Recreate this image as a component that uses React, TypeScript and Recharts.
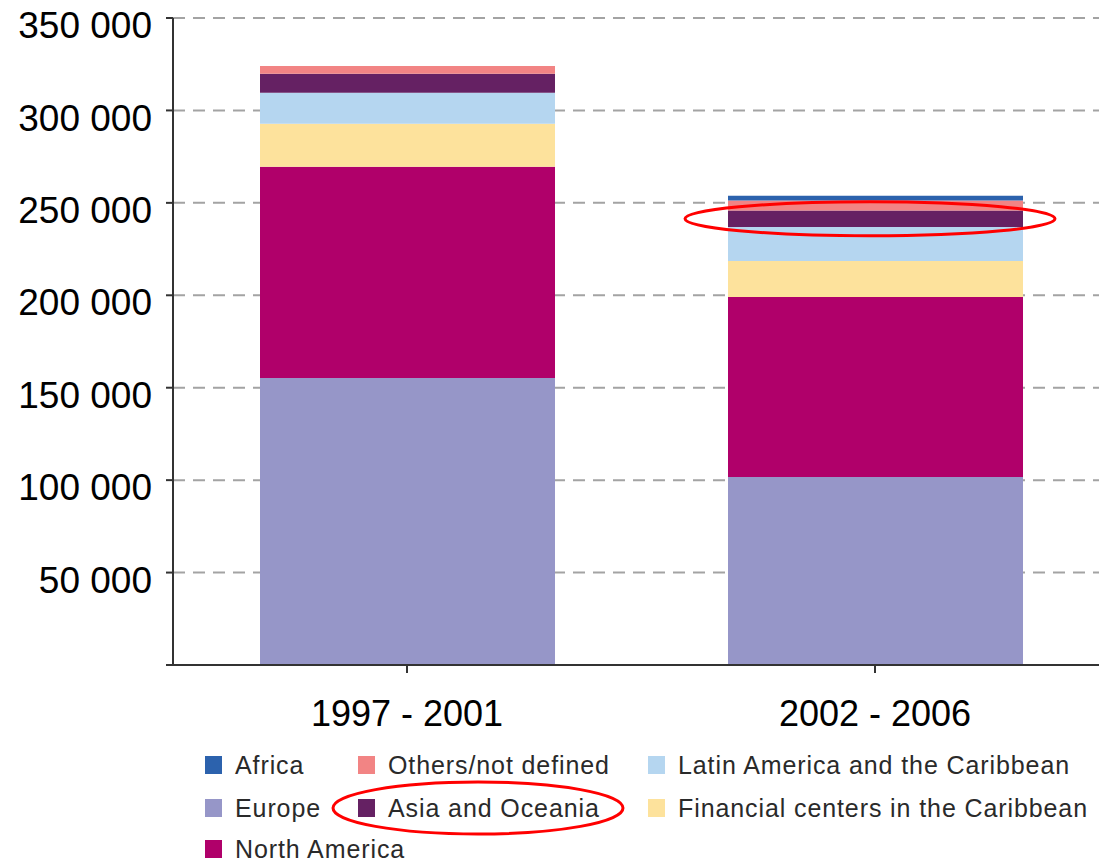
import { BarChart, Bar, XAxis, YAxis, CartesianGrid, ReferenceDot } from "recharts";

const periods = ["1997 - 2001", "2002 - 2006"];

const europe = [155300, 101700];
const northAmerica = [114200, 97400];
const financialCenters = [23300, 19500];
const latinAmerica = [16700, 18300];
const asiaOceania = [10300, 9000];
const othersNotDefined = [4300, 5400];
const africa = [0, 2500];

const yTicks = [0, 50000, 100000, 150000, 200000, 250000, 300000, 350000];

const series = [
  { key: "Europe", values: europe, color: "#9696c8" },
  { key: "North America", values: northAmerica, color: "#b0006a" },
  { key: "Financial centers in the Caribbean", values: financialCenters, color: "#fde29c" },
  { key: "Latin America and the Caribbean", values: latinAmerica, color: "#b5d6f0" },
  { key: "Asia and Oceania", values: asiaOceania, color: "#652163" },
  { key: "Others/not defined", values: othersNotDefined, color: "#f28484" },
  { key: "Africa", values: africa, color: "#2c62ad" },
];

// legend order as in the picture: column by column
const legendOrder = [
  "Africa",
  "Europe",
  "North America",
  "Others/not defined",
  "Asia and Oceania",
  "Latin America and the Caribbean",
  "Financial centers in the Caribbean",
];

const data = periods.map((p, i) => {
  const row: Record<string, string | number> = { period: p };
  series.forEach((s) => (row[s.key] = s.values[i]));
  return row;
});

const FONT = "'Liberation Sans', Arial, sans-serif";
const colX = [205, 358, 648];
const rowY = [765, 808, 849];

function fmt(v: number) {
  if (v === 0) return "";
  return String(v).replace(/\B(?=(\d{3})+(?!\d))/g, " ");
}

function YTick(props: any) {
  const { x, y, payload } = props;
  return (
    <text
      x={x}
      y={y + 7}
      dy="0.355em"
      textAnchor="end"
      fill="#000"
      fontSize={37}
      fontFamily={FONT}
    >
      {fmt(payload.value)}
    </text>
  );
}

function Legenda() {
  return (
    <>
      {legendOrder.map((name, i) => {
        const s = series.find((x) => x.key === name)!;
        const col = i < 3 ? 0 : i < 5 ? 1 : 2;
        const row = i < 3 ? i : i < 5 ? i - 3 : i - 5;
        return (
          <div
            key={name}
            style={{
              position: "absolute",
              left: colX[col],
              top: rowY[row] - 15,
              height: 30,
              display: "flex",
              alignItems: "center",
              fontFamily: FONT,
              fontSize: 25,
              letterSpacing: 0.9,
              color: "#2a2a2a",
              whiteSpace: "nowrap",
            }}
          >
            <span
              style={{
                display: "inline-block",
                width: 17,
                height: 18,
                background: s.color,
                marginRight: 13,
              }}
            />
            {name}
          </div>
        );
      })}
    </>
  );
}

export default function App() {
  return (
    <div
      style={{
        position: "absolute",
        left: 0,
        top: 0,
        width: 1099,
        height: 861,
        overflow: "hidden",
        background: "#fff",
      }}
    >
      <BarChart
        width={1115}
        height={735}
        data={data}
        margin={{ top: 18, right: 6, left: 0, bottom: 0 }}
      >
        <CartesianGrid
          horizontal
          vertical={false}
          stroke="#a3a3a3"
          strokeWidth={2}
          strokeDasharray="12 8"
        />
        <XAxis
          dataKey="period"
          height={70}
          tickSize={8}
          tickMargin={27}
          axisLine={{ stroke: "#333", strokeWidth: 2 }}
          tickLine={{ stroke: "#333", strokeWidth: 2 }}
          tick={{ fill: "#000", fontSize: 36, fontFamily: FONT }}
        />
        <YAxis
          width={173}
          domain={[0, 350000]}
          ticks={yTicks}
          interval={0}
          tickSize={7}
          tickMargin={14}
          axisLine={{ stroke: "#333", strokeWidth: 2 }}
          tickLine={{ stroke: "#333", strokeWidth: 2 }}
          tick={<YTick />}
        />
        {series.map((s) => (
          <Bar
            key={s.key}
            dataKey={s.key}
            stackId="a"
            fill={s.color}
            barSize={295}
            isAnimationActive={false}
          />
        ))}
        <ReferenceDot
          x={periods[1]}
          y={241400}
          r={10}
          ifOverflow="visible"
          shape={(p: any) => (
            <ellipse
              cx={p.cx - 5}
              cy={p.cy}
              rx={185}
              ry={17}
              fill="none"
              stroke="#ff0000"
              strokeWidth={3}
            />
          )}
        />
      </BarChart>
      <Legenda />
      <svg
        width={1099}
        height={861}
        style={{ position: "absolute", left: 0, top: 0, pointerEvents: "none" }}
      >
        <ellipse cx={478} cy={808} rx={145} ry={26} fill="none" stroke="#ff0000" strokeWidth={3} />
      </svg>
    </div>
  );
}
